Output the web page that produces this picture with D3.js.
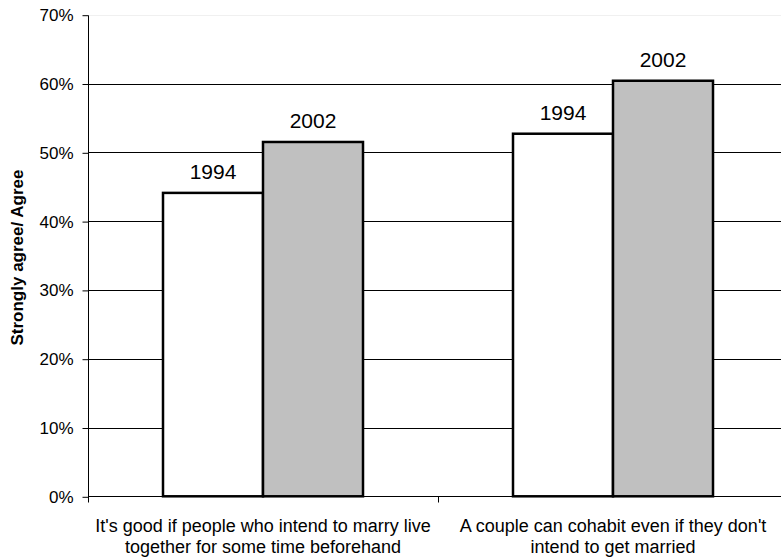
<!DOCTYPE html>
<html>
<head>
<meta charset="utf-8">
<script src="https://cdn.jsdelivr.net/npm/d3@7"></script>
<style>
  body { margin: 0; background: #fff; }
  svg { display: block; font-family: Arial, "Liberation Sans", sans-serif; }
</style>
</head>
<body>
<div id="chart"></div>
<script>
// chart data
var categories = [
  ["It's good if people who intend to marry live", "together for some time beforehand"],
  ["A couple can cohabit even if they don't", "intend to get married"]
];
var years = ["1994", "2002"];
var values1994 = [44.1, 52.7];
var values2002 = [51.5, 60.4];
var yTicks = [0, 10, 20, 30, 40, 50, 60, 70];

var width = 781, height = 560;
var margin = {top: 15, right: -7, bottom: 64, left: 88};
var fills = {"1994": "#ffffff", "2002": "#c0c0c0"};

var svg = d3.select('#chart').append('svg')
    .attr('width', width)
    .attr('height', height);

var x0 = d3.scaleBand()
    .domain(d3.range(categories.length))
    .range([margin.left, width - margin.right])
    .padding(0);

// group of 2 bars takes 200 of 350 px
var x1 = d3.scaleBand()
    .domain(years)
    .range([75, x0.bandwidth() - 75])
    .padding(0);

var y = d3.scaleLinear()
    .domain([0, 70])
    .range([height - margin.bottom + 0.3, margin.top - 0.3]);

// gridlines
svg.append('g').selectAll('line')
    .data(yTicks.filter(function(d) { return d > 0 && d < 70; }))
    .enter().append('line')
    .attr('x1', margin.left).attr('x2', width)
    .attr('y1', function(d) { return Math.round(y(d)) + 0.5; })
    .attr('y2', function(d) { return Math.round(y(d)) + 0.5; })
    .attr('stroke', '#000').attr('stroke-width', 1);

svg.append('line')
    .attr('x1', margin.left).attr('x2', width)
    .attr('y1', Math.round(y(70)) + 0.5).attr('y2', Math.round(y(70)) + 0.5)
    .attr('stroke', '#f0f0f0');

// y axis
var yAxis = d3.axisLeft(y)
    .tickValues(yTicks)
    .tickFormat(function(d) { return d + '%'; })
    .tickSize(6)
    .tickPadding(9);

var gy = svg.append('g')
    .attr('transform', 'translate(' + (margin.left + 0.5) + ',0.5)')
    .call(yAxis);
gy.select('.domain').attr('stroke', '#000').attr('d', 'M0,' + Math.round(y(70)) + 'V' + Math.round(y(0)));
gy.selectAll('.tick line').attr('stroke', '#000');
gy.selectAll('.tick text')
    .attr('font-size', 17)
    .attr('fill', '#000')
    .attr('font-family', 'Arial, "Liberation Sans", sans-serif');

// bars
var groups = svg.append('g').selectAll('g')
    .data(categories.map(function(c, i) {
      return {i: i, vals: [{year: '1994', v: values1994[i]}, {year: '2002', v: values2002[i]}]};
    }))
    .enter().append('g')
    .attr('transform', function(d) { return 'translate(' + x0(d.i) + ',0)'; });

groups.selectAll('rect')
    .data(function(d) { return d.vals; })
    .enter().append('rect')
    .attr('x', function(d) { return x1(d.year); })
    .attr('y', function(d) { return y(d.v); })
    .attr('width', x1.bandwidth())
    .attr('height', function(d) { return y(0) - y(d.v); })
    .attr('fill', function(d) { return fills[d.year]; })
    .attr('stroke', '#000')
    .attr('stroke-width', 2.5);

groups.selectAll('text.lbl')
    .data(function(d) { return d.vals; })
    .enter().append('text')
    .attr('class', 'lbl')
    .attr('x', function(d) { return x1(d.year) + x1.bandwidth() / 2; })
    .attr('y', function(d) { return y(d.v) - 14; })
    .attr('text-anchor', 'middle')
    .attr('font-size', 21)
    .text(function(d) { return d.year; });

// x axis line and ticks
var xAxisY = Math.round(y(0)) + 0.5;
svg.append('line')
    .attr('x1', margin.left).attr('x2', width)
    .attr('y1', xAxisY).attr('y2', xAxisY)
    .attr('stroke', '#000');
svg.append('g').selectAll('line')
    .data(d3.range(categories.length + 1))
    .enter().append('line')
    .attr('x1', function(i) { return Math.round(margin.left + i * x0.bandwidth()) + 0.5; })
    .attr('x2', function(i) { return Math.round(margin.left + i * x0.bandwidth()) + 0.5; })
    .attr('y1', xAxisY).attr('y2', xAxisY + 6)
    .attr('stroke', '#000');

// category labels
svg.append('g').selectAll('text')
    .data(categories)
    .enter().append('text')
    .attr('text-anchor', 'middle')
    .attr('font-size', 18)
    .attr('transform', function(d, i) { return 'translate(' + (x0(i) + x0.bandwidth() / 2) + ',532)'; })
    .each(function(d) {
      var t = d3.select(this);
      d.forEach(function(line, j) {
        t.append('tspan').attr('x', 0).attr('dy', j === 0 ? 0 : 21).text(line);
      });
    });

// y axis title
svg.append('text')
    .attr('transform', 'translate(23,' + ((y(0) + y(70)) / 2 + 2) + ') rotate(-90)')
    .attr('text-anchor', 'middle')
    .attr('font-size', 17)
    .attr('font-weight', 'bold')
    .text('Strongly agree/ Agree');
</script>
</body>
</html>
